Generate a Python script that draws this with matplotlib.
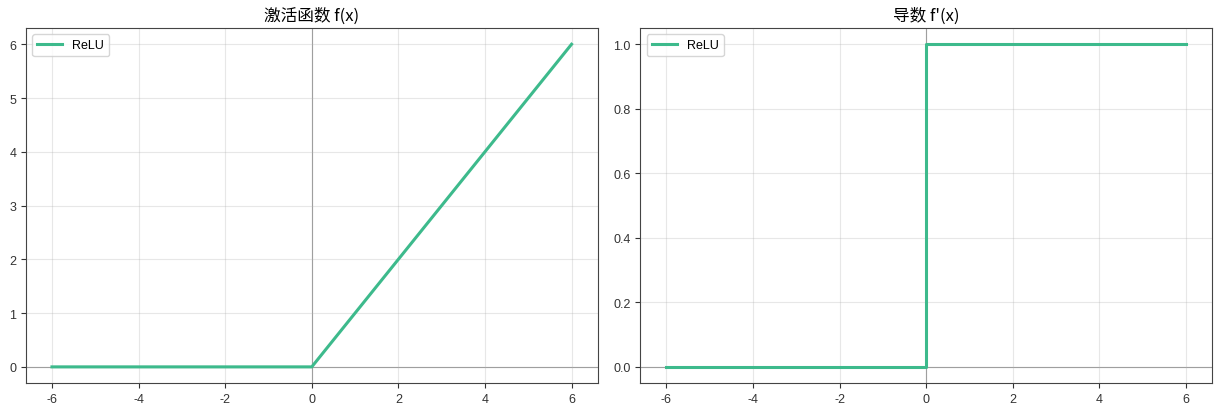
import matplotlib
matplotlib.use("Agg")
import matplotlib.pyplot as plt

# ReLU sampled at its corner points
x_vals = [-6, 0, 6]
relu_vals = [0, 0, 6]
# derivative: step at 0
dx_vals = [-6, 0, 0, 6]
drelu_vals = [0, 0, 1, 1]
label = "ReLU"
titles = ["激活函数 f(x)", "导数 f'(x)"]
color = "#3dba8c"

plt.rcParams['font.family'] = ['Liberation Sans', 'Noto Sans CJK SC', 'DejaVu Sans']
plt.rcParams['axes.unicode_minus'] = False

fig, axes = plt.subplots(1, 2, figsize=(12.2, 4.1), dpi=100)
fig.subplots_adjust(left=0.0213, right=0.9934, top=0.929, bottom=0.0634, wspace=0.075)

series = [(x_vals, relu_vals), (dx_vals, drelu_vals)]
for ax, (xs, ys), title in zip(axes, series, titles):
    ax.axhline(0, color="#999999", lw=0.8, zorder=1)
    ax.axvline(0, color="#999999", lw=0.8, zorder=1)
    ax.plot(xs, ys, color=color, lw=2.2, label=label, zorder=3)
    ax.set_title(title, fontsize=12, family=['Noto Sans CJK SC', 'DejaVu Sans'])
    ax.grid(True, alpha=0.3)
    ax.legend(loc="upper left", fontsize=9)
    ax.tick_params(labelsize=9, colors="#333333")
    for s in ax.spines.values():
        s.set_color("#444444")

fig.savefig("out.png")
